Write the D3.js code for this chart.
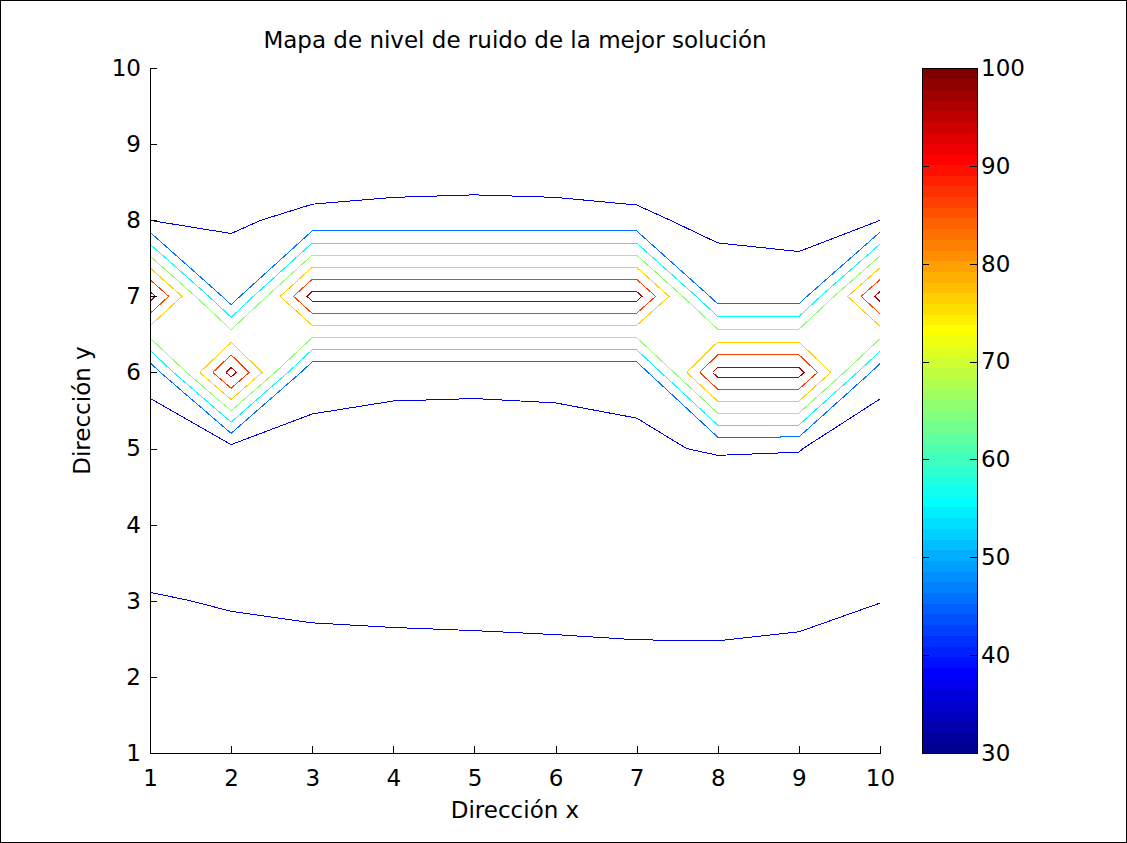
<!DOCTYPE html>
<html>
<head>
<meta charset="utf-8">
<script src="https://cdn.jsdelivr.net/npm/d3@7"></script>
<style>
  body { margin: 0; background: #fff; }
  svg { display: block; }
  text { font-family: "DejaVu Sans", sans-serif; fill: #000; }
</style>
</head>
<body>
<svg id="chart" width="1127" height="843"></svg>
<script>
// Grid coordinates (x = 1..10, y = 1..10)
const xValues = [1, 2, 3, 4, 5, 6, 7, 8, 9, 10];
const yValues = [1, 2, 3, 4, 5, 6, 7, 8, 9, 10];

// Noise level (dB) on each grid row, listed for x = 1..10
const rowY1  = [43.0, 42.0, 43.5, 42.5, 42.0, 41.5, 41.0, 41.0, 42.0, 45.0];
const rowY2  = [40.0, 39.1, 40.9, 39.7, 39.1, 38.5, 37.9, 37.8, 38.9, 42.3];
const rowY3  = [36.5, 35.5, 34.0, 34.0, 34.0, 34.0, 34.0, 34.0, 34.0, 35.8];
const rowY4  = [32.0, 31.5, 32.0, 32.0, 32.0, 32.0, 32.0, 30.9, 30.0, 31.0];
const rowY5  = [32.1, 32.5, 35.0, 34.0, 33.7, 34.2, 35.2, 36.5, 36.3, 30.4];
const rowY6  = [38.0, 100.0, 37.2, 37.2, 37.2, 37.2, 37.2, 100.0, 100.0, 39.0];
const rowY7  = [100.0, 39.3, 100.0, 100.0, 100.0, 100.0, 100.0, 40.0, 40.0, 100.0];
const rowY8  = [35.9, 35.3, 37.2, 37.2, 37.2, 37.2, 37.2, 34.3, 33.2, 35.9];
const rowY9  = [33.0, 33.0, 31.5, 33.2, 33.6, 33.2, 31.2, 32.0, 32.0, 33.0];
const rowY10 = [31.0, 31.0, 30.5, 31.0, 31.0, 31.0, 30.5, 30.5, 30.5, 31.0];

// Contour levels and tick values
const levels = [36, 46, 56, 66, 76, 86, 96];
const xTicks = [1, 2, 3, 4, 5, 6, 7, 8, 9, 10];
const yTicks = [1, 2, 3, 4, 5, 6, 7, 8, 9, 10];
const colorTicks = [30, 40, 50, 60, 70, 80, 90, 100];
const colorLimits = [30, 100];

const titleText = "Mapa de nivel de ruido de la mejor solución";
const xLabelText = "Dirección x";
const yLabelText = "Dirección y";

const grid = [rowY1, rowY2, rowY3, rowY4, rowY5, rowY6, rowY7, rowY8, rowY9, rowY10];

// ---- layout ----
const W = 1127, H = 843;
const plotBox = { left: 150, right: 880, top: 68, bottom: 753 };
const barBox = { left: 922, right: 977, top: 68, bottom: 753 };
const fontSize = 23;

const svg = d3.select("#chart");
svg.append("rect")
  .attr("x", 0.5).attr("y", 0.5)
  .attr("width", W - 1).attr("height", H - 1)
  .attr("fill", "#fff").attr("stroke", "#000");

const xScale = d3.scaleLinear().domain([1, 10]).range([plotBox.left, plotBox.right]);
const yScale = d3.scaleLinear().domain([1, 10]).range([plotBox.bottom, plotBox.top]);
const cScale = d3.scaleLinear().domain(colorLimits).range([barBox.bottom, barBox.top]);

// MATLAB-style jet colormap with m entries
function jetMap(m) {
  const n = Math.ceil(m / 4);
  const u = [];
  for (let i = 1; i <= n; i++) u.push(i / n);
  for (let i = 0; i < n - 1; i++) u.push(1);
  for (let i = n; i >= 1; i--) u.push(i / n);
  const g0 = Math.ceil(n / 2) - (m % 4 === 1 ? 1 : 0);
  const map = Array.from({ length: m }, () => [0, 0, 0]);
  u.forEach((val, k) => {
    const gi = g0 + k + 1, ri = gi + n, bi = gi - n;
    if (gi >= 1 && gi <= m) map[gi - 1][1] = val;
    if (ri >= 1 && ri <= m) map[ri - 1][0] = val;
    if (bi >= 1 && bi <= m) map[bi - 1][2] = val;
  });
  return map.map(c => d3.rgb(c[0] * 255, c[1] * 255, c[2] * 255).formatHex());
}
const cmap = jetMap(64);
const colorIndex = d3.scaleQuantize().domain(colorLimits).range(d3.range(64));
const colorOf = v => cmap[colorIndex(Math.min(colorLimits[1] - 1e-9, Math.max(colorLimits[0], v)))];

// ---- marching squares with linear interpolation ----
function contourSegments(level) {
  const nx = xValues.length, ny = yValues.length;
  const segs = [];
  const above = v => v > level;
  const lerp = (a, b) => (level - a) / (b - a);
  for (let j = 0; j < ny - 1; j++) {
    for (let i = 0; i < nx - 1; i++) {
      const v00 = grid[j][i], v10 = grid[j][i + 1];
      const v01 = grid[j + 1][i], v11 = grid[j + 1][i + 1];
      const pts = {};
      if (above(v00) !== above(v10)) pts.b = { key: `h${i}_${j}`, p: [xValues[i] + lerp(v00, v10) * (xValues[i + 1] - xValues[i]), yValues[j]] };
      if (above(v01) !== above(v11)) pts.t = { key: `h${i}_${j + 1}`, p: [xValues[i] + lerp(v01, v11) * (xValues[i + 1] - xValues[i]), yValues[j + 1]] };
      if (above(v00) !== above(v01)) pts.l = { key: `v${i}_${j}`, p: [xValues[i], yValues[j] + lerp(v00, v01) * (yValues[j + 1] - yValues[j])] };
      if (above(v10) !== above(v11)) pts.r = { key: `v${i + 1}_${j}`, p: [xValues[i + 1], yValues[j] + lerp(v10, v11) * (yValues[j + 1] - yValues[j])] };
      const names = Object.keys(pts);
      if (names.length === 2) {
        segs.push({ a: pts[names[0]], b: pts[names[1]] });
      } else if (names.length === 4) {
        // saddle: cut off the corners whose state differs from the cell centre
        const centreAbove = above((v00 + v10 + v01 + v11) / 4);
        const corners = [[v00, "b", "l"], [v10, "b", "r"], [v11, "r", "t"], [v01, "t", "l"]];
        corners.forEach(([v, e1, e2]) => {
          if (above(v) !== centreAbove) segs.push({ a: pts[e1], b: pts[e2] });
        });
      }
    }
  }
  return segs;
}

function stitch(segs) {
  const byKey = new Map();
  segs.forEach((s, idx) => {
    [s.a, s.b].forEach(end => {
      if (!byKey.has(end.key)) byKey.set(end.key, []);
      byKey.get(end.key).push(idx);
    });
  });
  const used = new Array(segs.length).fill(false);
  const lines = [];
  const walk = (startIdx, startKey) => {
    const pts = [];
    let idx = startIdx, key = startKey;
    const s0 = segs[idx];
    pts.push((s0.a.key === key ? s0.a : s0.b).p);
    while (idx !== undefined && !used[idx]) {
      used[idx] = true;
      const s = segs[idx];
      const next = s.a.key === key ? s.b : s.a;
      pts.push(next.p);
      key = next.key;
      idx = byKey.get(key).find(k => !used[k]);
    }
    return pts;
  };
  for (const [key, list] of byKey) {
    if (list.length === 1 && !used[list[0]]) lines.push(walk(list[0], key));
  }
  segs.forEach((s, idx) => { if (!used[idx]) lines.push(walk(idx, s.a.key)); });
  return lines;
}

const lineGen = d3.line().x(p => xScale(p[0])).y(p => yScale(p[1]));

const contourGroup = svg.append("g").attr("class", "contours");
levels.forEach(level => {
  const lines = stitch(contourSegments(level));
  contourGroup.selectAll(null)
    .data(lines)
    .enter().append("path")
    .attr("d", lineGen)
    .attr("fill", "none")
    .attr("stroke", colorOf(level))
    .attr("stroke-width", 1)
    .attr("shape-rendering", "crispEdges");
});

// ---- axes (left and bottom only, ticks inward) ----
const yAxis = d3.axisLeft(yScale).tickValues(yTicks).tickSize(-7).tickSizeOuter(0).tickPadding(9)
  .tickFormat(d3.format("d"));
const xAxis = d3.axisBottom(xScale).tickValues(xTicks).tickSize(-7).tickSizeOuter(0).tickPadding(17)
  .tickFormat(d3.format("d"));

const gy = svg.append("g").attr("transform", `translate(${plotBox.left},0)`).call(yAxis);
const gx = svg.append("g").attr("transform", `translate(0,${plotBox.bottom})`).call(xAxis);
[gx, gy].forEach(g => {
  g.selectAll("text").style("font-size", fontSize + "px").style("font-family", "DejaVu Sans, sans-serif").attr("fill", "#000");
  g.selectAll("line,path").attr("stroke", "#000").attr("shape-rendering", "crispEdges");
});

// ---- colour bar ----
const bands = d3.range(64);
const bandValue = k => colorLimits[0] + k * (colorLimits[1] - colorLimits[0]) / 64;
svg.append("g").selectAll("rect")
  .data(bands)
  .enter().append("rect")
  .attr("x", barBox.left)
  .attr("width", barBox.right - barBox.left)
  .attr("y", k => cScale(bandValue(k + 1)))
  .attr("height", k => cScale(bandValue(k)) - cScale(bandValue(k + 1)) + 0.6)
  .attr("fill", k => cmap[k])
  .attr("shape-rendering", "crispEdges");

svg.append("rect")
  .attr("x", barBox.left + 0.5).attr("y", barBox.top + 0.5)
  .attr("width", barBox.right - barBox.left).attr("height", barBox.bottom - barBox.top)
  .attr("fill", "none").attr("stroke", "#000");

const barAxis = d3.axisRight(cScale).tickValues(colorTicks).tickSize(-7).tickSizeOuter(0).tickPadding(4)
  .tickFormat(d3.format("d"));
const gc = svg.append("g").attr("transform", `translate(${barBox.right},0)`).call(barAxis);
gc.select(".domain").remove();
gc.selectAll("text").style("font-size", fontSize + "px").style("font-family", "DejaVu Sans, sans-serif").attr("fill", "#000");
gc.selectAll("line").attr("stroke", "#000").attr("shape-rendering", "crispEdges");

const barAxisLeft = d3.axisLeft(cScale).tickValues(colorTicks).tickSize(-7).tickSizeOuter(0).tickFormat("");
const gcl = svg.append("g").attr("transform", `translate(${barBox.left},0)`).call(barAxisLeft);
gcl.select(".domain").remove();
gcl.selectAll("line").attr("stroke", "#000").attr("shape-rendering", "crispEdges");

// ---- labels ----
svg.append("text")
  .attr("x", (plotBox.left + plotBox.right) / 2).attr("y", 48)
  .attr("text-anchor", "middle").style("font-size", fontSize + "px")
  .text(titleText);

svg.append("text")
  .attr("x", (plotBox.left + plotBox.right) / 2).attr("y", 818)
  .attr("text-anchor", "middle").style("font-size", fontSize + "px")
  .text(xLabelText);

svg.append("text")
  .attr("transform", `translate(90,${(plotBox.top + plotBox.bottom) / 2}) rotate(-90)`)
  .attr("text-anchor", "middle").style("font-size", fontSize + "px")
  .text(yLabelText);
</script>
</body>
</html>
